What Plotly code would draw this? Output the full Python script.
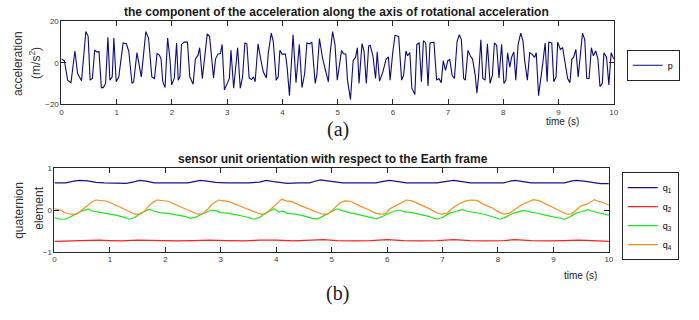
import plotly.graph_objects as go

W, H = 699, 320

# ---- (a) acceleration component p ----
t_p = [0.0, 0.054, 0.113, 0.173, 0.245, 0.293, 0.364, 0.442, 0.484, 0.520, 0.561, 0.603, 0.639, 0.681,
       0.723, 0.759, 0.800, 0.842, 0.878, 0.920, 0.950, 0.992, 1.039, 1.117, 1.177, 1.219, 1.278, 1.308,
       1.368, 1.416, 1.446, 1.529, 1.577, 1.637, 1.685, 1.732, 1.774, 1.804, 1.834, 1.876, 1.923, 1.965,
       1.995, 2.043, 2.085, 2.115, 2.145, 2.174, 2.222, 2.282, 2.324, 2.384, 2.425, 2.473, 2.503,
       2.551, 2.593, 2.640, 2.682, 2.754, 2.790, 2.832, 2.879, 2.909, 2.951, 2.999, 3.041, 3.070, 3.118,
       3.190, 3.238, 3.280, 3.321, 3.357, 3.399, 3.441, 3.477, 3.507, 3.560, 3.608, 3.656, 3.710, 3.746,
       3.799, 3.835, 3.889, 3.925, 3.955, 3.996, 4.056, 4.086, 4.128, 4.194, 4.247, 4.307, 4.355, 4.403,
       4.444, 4.492, 4.534, 4.594, 4.624, 4.671, 4.731, 4.773, 4.833, 4.863, 4.910, 4.952, 4.994,
       5.072, 5.102, 5.149, 5.179, 5.233, 5.281, 5.323, 5.358, 5.388, 5.442, 5.478, 5.520, 5.562, 5.591,
       5.639, 5.687, 5.717, 5.759, 5.818, 5.878, 5.920, 5.950, 5.998, 6.039, 6.105, 6.159, 6.195, 6.237,
       6.267, 6.308, 6.344, 6.398, 6.434, 6.476, 6.517, 6.553, 6.595, 6.637, 6.673, 6.744, 6.792, 6.834,
       6.876, 6.912, 6.953, 6.995, 7.031, 7.073, 7.115, 7.163, 7.204, 7.240, 7.282, 7.312, 7.360, 7.401,
       7.443, 7.491, 7.521,
       7.551, 7.593, 7.629, 7.670, 7.712, 7.760, 7.802, 7.838, 7.879, 7.921, 7.969, 8.011, 8.047, 8.077,
       8.118, 8.148, 8.190, 8.226, 8.268, 8.315, 8.357, 8.387, 8.435, 8.477, 8.518, 8.566, 8.596, 8.638,
       8.686, 8.716, 8.757, 8.793, 8.823, 8.877, 8.913, 8.955, 8.984, 9.032, 9.074, 9.116, 9.164, 9.206,
       9.241, 9.271, 9.313, 9.355, 9.391, 9.433, 9.474, 9.510, 9.552, 9.594, 9.630, 9.672, 9.713, 9.749,
       9.791, 9.821, 9.869, 9.910, 9.952, 10.0]
p = [1.8, 1.0, -8.4, -9.6, 5.7, -5.2, -8.7, 15.1, 12.8, -8.4, -7.6, 6.2, 5.3, 5.4,
     -12.0, -12.0, -10.0, 12.3, -8.4, -6.8, 12.0, -9.2, -6.8, 9.6, 9.2, 5.7, -10.0, -9.2,
     4.9, -3.7, -6.8, 15.1, 12.0, -6.8, -7.6, 4.5, 3.7, 1.8, -8.9, -12.0, 12.0, 1.8,
     -10.7, -7.6, 9.6, -8.4, -6.8, 8.9, 10.0, 10.0, -6.8, -10.4, 1.8, 3.7, 7.3,
     -7.6, 3.4, 14.0, 12.8, -7.3, 1.8, 4.2, 4.5, 8.9, -13.1, -10.0, -7.6, 6.0, -12.3,
     7.3, -12.3, -6.8, 9.6, 9.2, -7.3, -8.1, -6.8, -9.2, 9.2, 1.8, -4.5, -7.3, 4.9,
     14.4, 10.4, -8.4, -6.8, 6.0, 4.2, 4.2, -2.1, -15.9, 13.6, -9.6, 8.9, -12.0, -5.3,
     9.6, 9.2, 10.0, -10.0, -6.0, 11.7, 1.8, -2.9, -9.2, 4.2, 15.1, 8.9, -8.4,
     6.0, 4.5, 4.2, -8.4, -17.8, 1.0, 2.6, 7.3, -10.0, 9.3, 5.7, -10.0, 8.1, 8.5,
     3.4, -7.6, 5.3, -8.9, -4.5, 1.8, 2.9, -8.4, 4.9, 13.3, 12.8, -8.4, -6.0, 5.7,
     3.4, 4.9, -12.3, -15.4, 8.9, 9.6, -9.2, 10.7, 9.6, -11.2, 9.6, 10.0, -8.4, -7.6,
     -9.6, 1.0, -3.7, 1.0, 1.5, -6.0, -7.6, 10.4, 13.6, 11.2, -7.6, -8.4, 6.0, 3.4,
     1.8, -6.0, -14.7,
     -6.8, 11.2, -7.6, -8.4, 9.2, -10.0, -6.0, 9.6, 8.5, -7.3, 8.9, -10.0, -8.4, 4.9,
     -2.1, 2.6, 5.3, -8.4, 8.9, 14.4, 10.4, 1.0, -8.4, 4.9, 4.2, 2.6, 4.9, -15.9,
     -6.8, 0.2, 9.6, -9.2, 10.0, 9.6, -9.2, -6.8, 10.0, 6.5, 7.3, -0.5, -7.6, -9.6,
     1.8, 2.6, 6.5, -6.8, 4.2, 14.4, 11.2, -7.6, -7.6, 7.3, 3.4, 5.7, 1.8, -11.5,
     -10.0, 4.9, 2.6, -10.7, 4.9, 1.8]

# ---- (b) quaternion elements ----
t_q1 = [0, 0.2, 0.35, 0.45, 0.6, 0.75, 0.9, 1.1, 1.3, 1.45, 1.54, 1.65, 1.8, 2.0, 2.2, 2.4, 2.52, 2.63,
        2.75, 2.9, 3.1, 3.3, 3.5, 3.7, 3.82, 3.95, 4.05, 4.2, 4.4, 4.6, 4.7, 4.8, 4.92, 5.05, 5.2, 5.4,
        5.6, 5.8, 5.95, 6.05, 6.2, 6.35, 6.6, 6.9, 7.1, 7.21, 7.35, 7.5, 7.8, 8.1, 8.22, 8.31, 8.45,
        8.6, 8.9, 9.2, 9.32, 9.41, 9.55, 9.7, 9.85, 10.0]
q1 = [0.65, 0.65, 0.69, 0.71, 0.70, 0.66, 0.65, 0.64, 0.64, 0.68, 0.71, 0.69, 0.65, 0.65, 0.65, 0.65,
      0.68, 0.71, 0.69, 0.66, 0.65, 0.65, 0.65, 0.67, 0.71, 0.68, 0.66, 0.64, 0.65, 0.65, 0.69, 0.72,
      0.70, 0.67, 0.65, 0.65, 0.65, 0.65, 0.69, 0.71, 0.68, 0.65, 0.65, 0.65, 0.69, 0.71, 0.68, 0.65,
      0.65, 0.65, 0.69, 0.71, 0.68, 0.65, 0.65, 0.65, 0.69, 0.71, 0.69, 0.66, 0.63, 0.63]

t_q2 = [0, 0.5, 0.8, 1.0, 1.2, 1.5, 1.8, 2.0, 2.2, 2.5, 2.8, 3.1, 3.4, 3.7, 4.0, 4.3, 4.6, 4.85, 5.1,
        5.4, 5.7, 6.0, 6.3, 6.6, 6.9, 7.2, 7.5, 7.8, 8.1, 8.3, 8.6, 8.9, 9.2, 9.45, 9.7, 10.0]
q2 = [-0.75, -0.73, -0.72, -0.73, -0.74, -0.72, -0.73, -0.72, -0.74, -0.73, -0.72, -0.73, -0.74,
      -0.72, -0.72, -0.74, -0.73, -0.71, -0.73, -0.74, -0.73, -0.71, -0.73, -0.74, -0.73, -0.71,
      -0.73, -0.74, -0.73, -0.71, -0.73, -0.74, -0.73, -0.72, -0.73, -0.75]

t_q3 = [0, 0.1, 0.2, 0.3, 0.4, 0.5, 0.61, 0.7, 0.8, 0.95, 1.1, 1.25, 1.35, 1.45, 1.55, 1.62, 1.71,
        1.8, 1.9, 2.05, 2.2, 2.35, 2.45, 2.55, 2.65, 2.75, 2.83, 2.92, 3.0, 3.15, 3.3, 3.45, 3.6, 3.7,
        3.8, 3.9, 3.96, 4.05, 4.12, 4.2, 4.35, 4.5, 4.65, 4.75, 4.85, 4.95, 5.0, 5.1, 5.2, 5.3, 5.45,
        5.6, 5.72, 5.81, 5.92, 6.02, 6.12, 6.23, 6.3, 6.45, 6.6, 6.75, 6.85, 6.91, 7.0, 7.12, 7.25,
        7.36, 7.45, 7.6, 7.75, 7.9, 8.04, 8.14, 8.25, 8.35, 8.46, 8.55, 8.7, 8.85, 9.0, 9.12, 9.2,
        9.3, 9.4, 9.5, 9.62, 9.7, 9.8, 9.9, 10.0]
q3 = [-0.18, -0.22, -0.22, -0.15, -0.08, -0.02, 0.02, -0.03, -0.05, -0.08, -0.12, -0.17, -0.22,
      -0.18, -0.08, -0.04, 0.02, -0.03, -0.06, -0.08, -0.12, -0.15, -0.20, -0.17, -0.10, -0.04,
      0.00, -0.02, -0.06, -0.08, -0.12, -0.16, -0.22, -0.18, -0.08, -0.01, 0.03, -0.05, -0.02,
      -0.08, -0.10, -0.14, -0.20, -0.21, -0.14, -0.06, -0.04, 0.03, -0.02, -0.05, -0.09, -0.13,
      -0.18, -0.21, -0.15, -0.08, -0.03, 0.00, -0.04, -0.06, -0.10, -0.15, -0.20, -0.21, -0.18,
      -0.08, -0.03, 0.01, -0.03, -0.07, -0.10, -0.16, -0.22, -0.17, -0.09, -0.05, -0.01, -0.04,
      -0.07, -0.12, -0.16, -0.21, -0.22, -0.16, -0.08, -0.04, 0.01, -0.03, -0.06, -0.09, -0.12]

t_q4 = [0, 0.1, 0.2, 0.3, 0.4, 0.5, 0.6, 0.68, 0.75, 0.85, 0.95, 1.1, 1.25, 1.35, 1.45, 1.55, 1.62,
        1.7, 1.78, 1.85, 1.95, 2.05, 2.2, 2.4, 2.5, 2.58, 2.66, 2.75, 2.85, 2.96, 3.06, 3.15, 3.3,
        3.5, 3.62, 3.72, 3.8, 3.88, 3.98, 4.05, 4.1, 4.18, 4.28, 4.45, 4.6, 4.75, 4.83, 4.93, 5.0,
        5.08, 5.16, 5.24, 5.34, 5.5, 5.65, 5.8, 5.9, 5.98, 6.05, 6.15, 6.28, 6.35, 6.45, 6.6, 6.75,
        6.9, 6.98, 7.08, 7.18, 7.3, 7.42, 7.51, 7.62, 7.75, 7.9, 8.02, 8.1, 8.2, 8.3, 8.42, 8.55,
        8.64, 8.75, 8.9, 9.05, 9.18, 9.24, 9.33, 9.42, 9.5, 9.6, 9.68, 9.74, 9.82, 9.9, 10.0]
q4 = [0.03, 0.00, -0.07, -0.10, -0.10, 0.00, 0.12, 0.20, 0.24, 0.22, 0.21, 0.12, 0.03, -0.04,
      -0.10, -0.10, -0.03, 0.10, 0.19, 0.24, 0.22, 0.21, 0.12, 0.01, -0.06, -0.10, -0.10, 0.00,
      0.15, 0.24, 0.22, 0.20, 0.12, 0.02, -0.05, -0.10, -0.10, 0.00, 0.12, 0.20, 0.26, 0.22, 0.20,
      0.10, 0.02, -0.06, -0.10, -0.10, -0.02, 0.08, 0.18, 0.22, 0.21, 0.10, 0.02, -0.08, -0.10,
      -0.08, 0.03, 0.10, 0.20, 0.24, 0.22, 0.13, 0.04, -0.07, -0.10, -0.08, 0.05, 0.15, 0.22,
      0.24, 0.23, 0.13, 0.05, -0.05, -0.10, -0.08, 0.02, 0.12, 0.20, 0.25, 0.22, 0.12, 0.02,
      -0.07, -0.10, -0.09, 0.02, 0.10, 0.14, 0.20, 0.25, 0.20, 0.18, 0.12]

x_ticks = list(range(0, 11))
y_ticks_a = [-20, 0, 20]
y_ticks_b = [-1, 0, 1]

fig = go.Figure()
fig.add_trace(go.Scatter(x=t_p, y=p, mode="lines", name="p",
                         line=dict(color="#0a0a8a", width=1.1), xaxis="x", yaxis="y",
                         legend="legend"))
q_series = [("q<sub>1</sub>", t_q1, q1, "#14148c"),
            ("q<sub>2</sub>", t_q2, q2, "#ff2020"),
            ("q<sub>3</sub>", t_q3, q3, "#1ee61e"),
            ("q<sub>4</sub>", t_q4, q4, "#ff8c1e")]
for name, tx, qy, col in q_series:
    fig.add_trace(go.Scatter(x=tx, y=qy, mode="lines", name=name,
                             line=dict(color=col, width=1.2), xaxis="x2", yaxis="y2",
                             legend="legend2"))

def px_x(v):
    return v / W

def px_y(v):
    return 1 - v / H

axis_common = dict(showline=True, linecolor="#262626", linewidth=1, mirror="ticks",
                   ticks="inside", ticklen=5, tickcolor="#262626", tickwidth=1,
                   showgrid=False, zeroline=False,
                   tickfont=dict(family="Liberation Sans, Arial", size=8, color="#404040"))

fig.update_layout(
    width=W, height=H, margin=dict(l=0, r=0, t=0, b=0),
    paper_bgcolor="white", plot_bgcolor="white",
    font=dict(family="Liberation Sans, Arial", color="#1a1a1a"),
    xaxis=dict(domain=[px_x(60), px_x(618)], range=[0, 10], tickvals=x_ticks, anchor="y",
               **axis_common),
    yaxis=dict(domain=[px_y(103), px_y(18)], range=[-20, 20], tickvals=y_ticks_a, anchor="x",
               **axis_common),
    xaxis2=dict(domain=[px_x(53), px_x(613)], range=[0, 10], tickvals=x_ticks, anchor="y2",
                **axis_common),
    yaxis2=dict(domain=[px_y(255), px_y(169)], range=[-1, 1], tickvals=y_ticks_b, anchor="x2",
                **axis_common),
    legend=dict(x=px_x(631), y=px_y(47), xanchor="left", yanchor="top",
                bordercolor="#262626", borderwidth=1, bgcolor="white",
                font=dict(size=9, color="#000000", family="Liberation Sans, Arial"),
                itemwidth=30, tracegroupgap=0),
    legend2=dict(x=px_x(626), y=px_y(173), xanchor="left", yanchor="top",
                 bordercolor="#262626", borderwidth=1, bgcolor="white",
                 font=dict(size=9, color="#000000", family="Liberation Sans, Arial"),
                 itemwidth=30, tracegroupgap=0),
    showlegend=True,
)

ann = [
    dict(text="<b>the component of the acceleration along the axis of rotational acceleration</b>",
         x=px_x(338), y=px_y(8), size=12, family="Liberation Sans, Arial"),
    dict(text="<b>sensor unit orientation with respect to the Earth frame</b>",
         x=px_x(334), y=px_y(159), size=12, family="Liberation Sans, Arial"),
    dict(text="time (s)", x=px_x(566), y=px_y(121), size=10, family="Liberation Sans, Arial"),
    dict(text="time (s)", x=px_x(584), y=px_y(279), size=10, family="Liberation Sans, Arial"),
    dict(text="(a)", x=px_x(339), y=px_y(129), size=20, family="Liberation Serif, Times New Roman"),
    dict(text="(b)", x=px_x(339), y=px_y(298), size=20, family="Liberation Serif, Times New Roman"),
]
for a in ann:
    fig.add_annotation(text=a["text"], x=a["x"], y=a["y"], xref="paper", yref="paper",
                       showarrow=False, xanchor="center", yanchor="middle",
                       font=dict(size=a["size"], family=a["family"], color="#1a1a1a"))

ylabels = [("acceleration", 16, 61), ("(m/s<sup>2</sup>)", 34, 61),
           ("quaternion", 17, 212), ("element", 37, 210)]
for txt, xx, yy in ylabels:
    fig.add_annotation(text=txt, x=px_x(xx), y=px_y(yy), xref="paper", yref="paper",
                       showarrow=False, textangle=-90, xanchor="center", yanchor="middle",
                       font=dict(size=12, family="Liberation Sans, Arial", color="#333333"))

fig.write_html("out.html")
